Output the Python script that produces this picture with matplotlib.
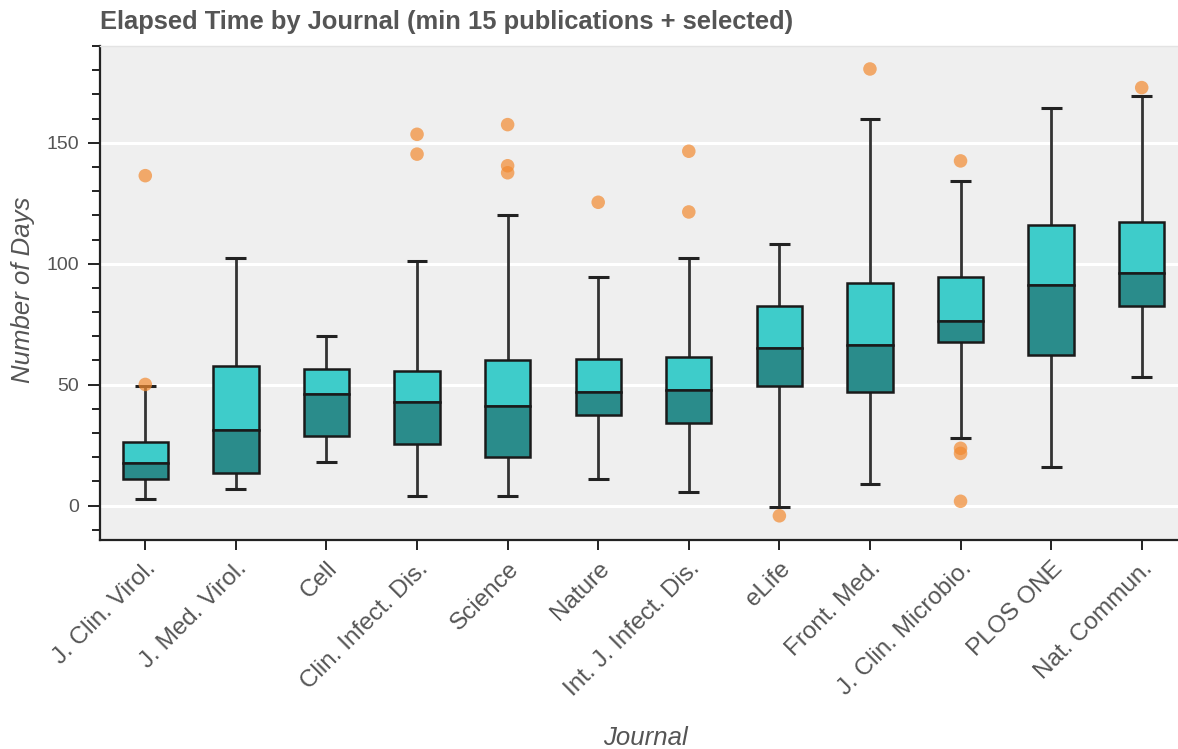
import matplotlib
matplotlib.use("Agg")
import matplotlib.pyplot as plt
import numpy as np
from matplotlib.ticker import MultipleLocator

journals = ["J. Clin. Virol.", "J. Med. Virol.", "Cell", "Clin. Infect. Dis.", "Science",
            "Nature", "Int. J. Infect. Dis.", "eLife", "Front. Med.", "J. Clin. Microbio.",
            "PLOS ONE", "Nat. Commun."]
q1 = [11.0, 13.6, 28.6, 25.6, 20.0, 37.3, 34.0, 49.3, 47.0, 67.6, 62.1, 82.6]
median = [17.6, 31.1, 46.1, 43.0, 41.2, 46.8, 47.8, 65.2, 66.3, 76.2, 91.3, 96.2]
q3 = [26.3, 57.7, 56.6, 55.8, 60.3, 60.5, 61.4, 82.6, 92.1, 94.5, 116.0, 117.4]
lower = [2.9, 7.0, 18.0, 4.0, 4.0, 11.0, 5.8, -0.7, 8.9, 27.9, 16.1, 53.2]
upper = [49.3, 102.5, 70.0, 101.0, 120.3, 94.5, 102.4, 108.3, 159.8, 134.3, 164.5, 169.2]
outlier_journal = ["J. Clin. Virol.", "J. Clin. Virol.", "Clin. Infect. Dis.", "Clin. Infect. Dis.",
                   "Science", "Science", "Science", "Nature", "Int. J. Infect. Dis.",
                   "Int. J. Infect. Dis.", "eLife", "Front. Med.", "J. Clin. Microbio.",
                   "J. Clin. Microbio.", "J. Clin. Microbio.", "J. Clin. Microbio.", "Nat. Commun."]
outlier_value = [136.4, 50.1, 153.5, 145.3, 157.5, 140.5, 137.6, 125.4, 146.5, 121.4,
                 -4.2, 180.5, 142.5, 23.7, 21.6, 1.8, 172.8]

plt.rcParams['font.family'] = ['Liberation Sans', 'DejaVu Sans']

W, H = 1178, 749
fig = plt.figure(figsize=(W / 100, H / 100), dpi=100)
left_px, right_px, top_px, bottom_px = 100, 1187, 46, 539.5
ax = fig.add_axes([left_px / W, (H - bottom_px) / H, (right_px - left_px) / W, (bottom_px - top_px) / H])
ax.set_facecolor('#EFEFEF')

x = np.arange(len(journals))
q1a, meda, q3a = np.array(q1), np.array(median), np.array(q3)
lowa, upa = np.array(lower), np.array(upper)

# whiskers
ax.vlines(x, q3a, upa, color='#333333', lw=2.0, zorder=2)
ax.vlines(x, lowa, q1a, color='#333333', lw=2.0, zorder=2)
cap = 0.115
ax.hlines(upa, x - cap, x + cap, color='#222222', lw=2.2, zorder=2)
ax.hlines(lowa, x - cap, x + cap, color='#222222', lw=2.2, zorder=2)

# boxes
bw = 0.5
ax.bar(x, q3a - meda, bottom=meda, width=bw, color='#3ECCCA', edgecolor='#1a1a1a', lw=1.8, zorder=3)
ax.bar(x, meda - q1a, bottom=q1a, width=bw, color='#2A8C8B', edgecolor='#1a1a1a', lw=1.8, zorder=3)

# outliers
ox = [journals.index(j) for j in outlier_journal]
ax.scatter(ox, outlier_value, s=95, color='#F28A30', alpha=0.7, edgecolor='none', zorder=4)

ax.set_xlim(-0.5, len(journals) - 0.5)
ax.set_ylim(-14.0, 190.0)

ax.yaxis.set_major_locator(MultipleLocator(50))
ax.yaxis.set_minor_locator(MultipleLocator(10))
ax.set_xticks(x)
ax.set_xticklabels(journals, rotation=45, ha='right', rotation_mode='anchor')

ax.grid(axis='y', which='major', color='white', lw=2.2)
ax.set_axisbelow(True)

ax.spines['right'].set_visible(False)
ax.spines['top'].set_color('#E3E3E3')
ax.spines['top'].set_linewidth(1.0)
for s in ['left', 'bottom']:
    ax.spines[s].set_color('#222222')
    ax.spines[s].set_linewidth(1.6)

ax.tick_params(axis='y', which='major', direction='out', length=9, width=1.4, color='#222222',
               labelsize=14, labelcolor='#555555', pad=6)
ax.tick_params(axis='y', which='minor', direction='out', length=6, width=1.4, color='#222222')
ax.tick_params(axis='x', which='major', direction='out', length=7, width=1.4, color='#222222',
               labelsize=17.5, labelcolor='#555555', pad=6)

ax.set_ylabel('Number of Days', fontsize=18.5, style='italic', color='#555555')
ax.set_xlabel('Journal', fontsize=18.5, style='italic', color='#555555')
ax.xaxis.set_label_coords((645 - left_px) / (right_px - left_px), -(738 - bottom_px) / (bottom_px - top_px))
ax.xaxis.label.set_va('center')
ax.yaxis.set_label_coords(-(100 - 23) / (right_px - left_px), (bottom_px - 290) / (bottom_px - top_px))
ax.yaxis.label.set_va('center')

fig.text(left_px / W, 1 - 22 / H, 'Elapsed Time by Journal (min 15 publications + selected)',
         fontsize=18.4, fontweight='bold', color='#555555', ha='left', va='center')

fig.savefig('out.png', dpi=100, facecolor='white')
